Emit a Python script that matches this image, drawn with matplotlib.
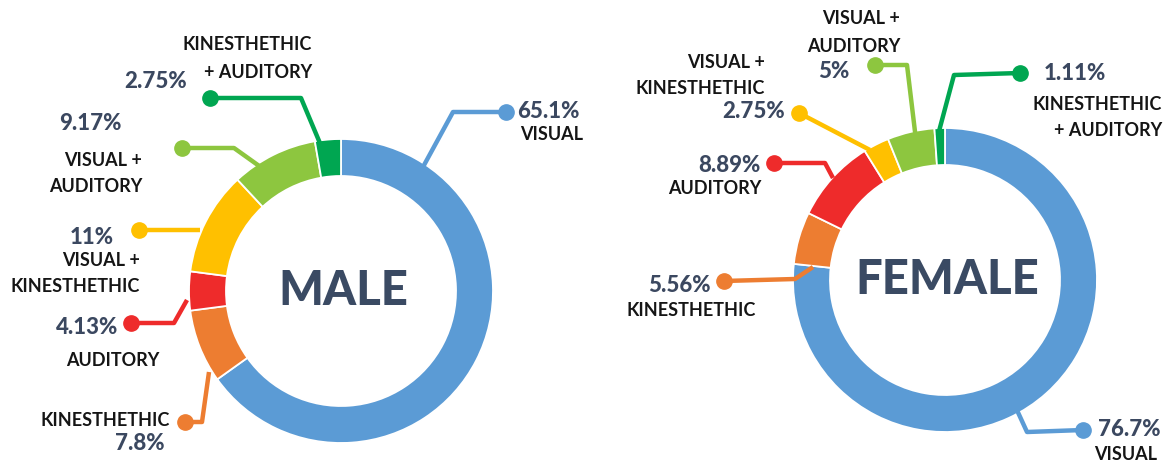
import matplotlib
matplotlib.use("Agg")
import matplotlib.pyplot as plt

W, H = 1174, 462

# ---- data ----
categories = ["VISUAL", "KINESTHETHIC", "AUDITORY",
              "VISUAL +\nKINESTHETHIC", "VISUAL +\nAUDITORY", "KINESTHETHIC\n+ AUDITORY"]
male_values = [65.1, 7.8, 4.13, 11, 9.17, 2.75]
female_values = [76.7, 5.56, 8.89, 2.75, 5, 1.11]
colors = ["#5B9BD5", "#ED7D31", "#EE2B2B", "#FFC000", "#8DC63F", "#00A651"]

NUM_COLOR = "#3B4860"
LAB_COLOR = "#151515"
FONT = ["Lato", "DejaVu Sans"]

# ---- layout (pixel coordinates) ----
male_center, female_center = (341, 291), (945, 280)
R, RW = 152, 37

# per segment: leader path, pct text (x, y, ha), category lines (x, y0, dy, ha)
male_layout = [
    dict(path=[(506, 112), (453, 112), (423, 167)], pct=(517, 111, "left"), cat=(520, 135, 27, "left")),
    dict(path=[(185, 422), (202, 422), (209, 372)], pct=(165, 443, "right"), cat=(170, 421, 27, "right")),
    dict(path=[(131, 323), (174, 323), (187, 300)], pct=(118, 327, "right"), cat=(159, 360, 27, "right")),
    dict(path=[(139, 230), (200, 230)], pct=(114, 238, "right"), cat=(140, 260, 27, "right")),
    dict(path=[(182, 148), (234, 148), (262, 168)], pct=(122, 124, "right"), cat=(142, 160, 27, "right")),
    dict(path=[(210, 98), (301, 98), (322, 148)], pct=(187, 81, "right"), cat=(312, 45, 27, "right")),
]
female_layout = [
    dict(path=[(1083, 430), (1027, 432), (1016, 408)], pct=(1098, 430, "left"), cat=(1094, 455, 27, "left")),
    dict(path=[(724, 281), (795, 279), (813, 267)], pct=(711, 286, "right"), cat=(756, 311, 27, "right")),
    dict(path=[(774, 163), (825, 163), (833, 178)], pct=(761, 166, "right"), cat=(761, 189, 27, "right")),
    dict(path=[(799, 113), (870, 150)], pct=(785, 111, "right"), cat=(765, 63, 26, "right")),
    dict(path=[(875, 65), (907, 65), (916, 140)], pct=(849, 71, "right"), cat=(900, 19, 28, "right")),
    dict(path=[(1020, 73), (954, 75), (938, 135)], pct=(1044, 74, "left"), cat=(1162, 104, 26, "right")),
]

fig = plt.figure(figsize=(W / 100, H / 100), dpi=100)
ax = fig.add_axes([0, 0, 1, 1])


def draw_donut(values, center, layout, title, dy_title):
    # y axis is inverted: startangle -90 is the top, counterclock=True runs clockwise on screen
    ax.pie(values, colors=colors, center=center, radius=R, startangle=-90,
           counterclock=True, frame=True,
           wedgeprops=dict(width=RW, edgecolor="white", linewidth=1.3))
    for v, cat, col, lay in zip(values, categories, colors, layout):
        xs = [p[0] for p in lay["path"]]
        ys = [p[1] for p in lay["path"]]
        ax.plot(xs, ys, color=col, lw=3.2, solid_capstyle="butt", zorder=5)
        ax.plot(xs[0], ys[0], "o", color=col, ms=11, zorder=6)
        px, py, pha = lay["pct"]
        ax.text(px, py, f"{v:g}%", ha=pha, va="center", fontsize=16,
                fontweight="black", color=NUM_COLOR, family=FONT, zorder=7)
        cx, cy, dy, cha = lay["cat"]
        for i, line in enumerate(cat.split("\n")):
            ax.text(cx, cy + i * dy, line, ha=cha, va="center", fontsize=13,
                    fontweight="bold", color=LAB_COLOR, family=FONT, zorder=7)
    ax.text(center[0] + 2, center[1] + dy_title, title, ha="center", va="center",
            fontsize=34, fontweight="black", color="#3A4A63", family=FONT)


draw_donut(male_values, male_center, male_layout, "MALE", 0)
draw_donut(female_values, female_center, female_layout, "FEMALE", 0)

ax.set_xlim(0, W)
ax.set_ylim(H, 0)
ax.set_aspect("auto")
ax.axis("off")

fig.savefig("out.png", dpi=100, facecolor="white")
